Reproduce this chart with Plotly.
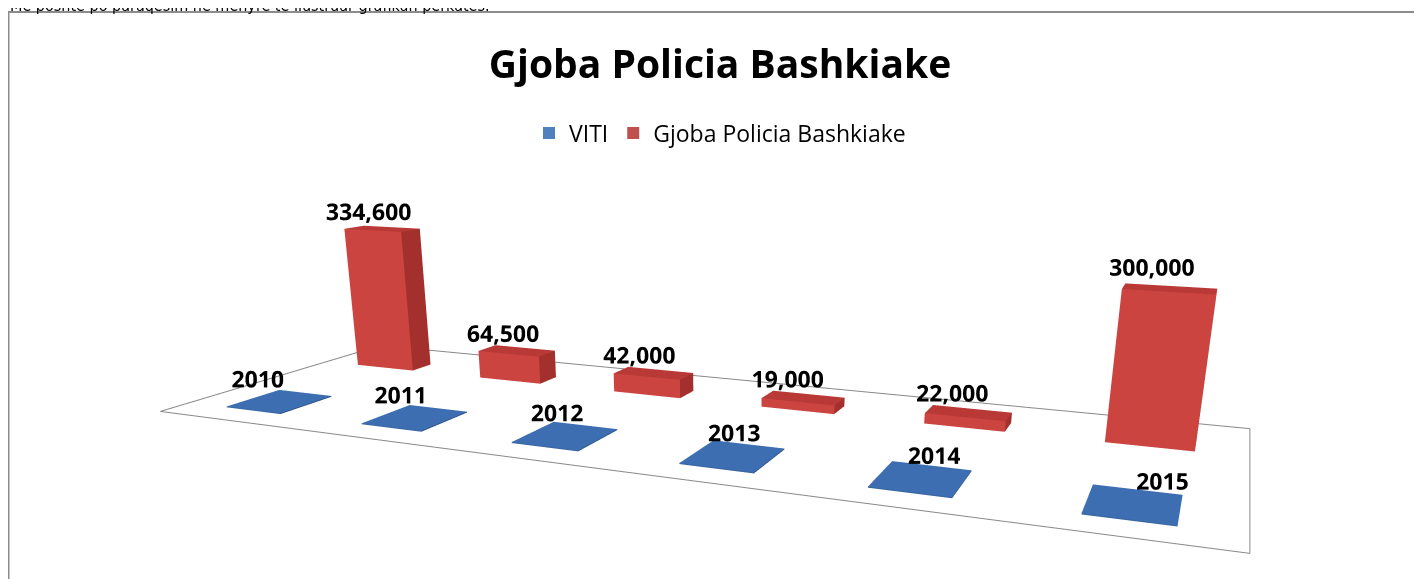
import plotly.graph_objects as go

# ---- data ----
years = ["2010", "2011", "2012", "2013", "2014", "2015"]
viti = [2010, 2011, 2012, 2013, 2014, 2015]
gjoba = [334600, 64500, 42000, 19000, 22000, 300000]
series_names = ["VITI", "Gjoba Policia Bashkiake"]
chart_title = "Gjoba Policia Bashkiake"
note_text = "Me poshte po paraqesim ne menyre te ilustruar grafikun perkatës."

# ---- layout constants ----
FW, FH = 1414, 1000          # figure (page has 8px body margin); taller than window for a narrow FOV
ZMIN, ZMAX = -4000, 400000
Z_SCALE = 0.5285 / 350000    # scene units per value unit
Z_ASPECT = Z_SCALE * (ZMAX - ZMIN)
FLOOR_Z = -Z_ASPECT / 2 + Z_SCALE * (0 - ZMIN)
FLOOR_X = [-0.5, 5.5]
FLOOR_Y = [-0.40, 1.44]
PX, PY = 0.03, 0.02
X_RANGE = [FLOOR_X[0] - PX, FLOOR_X[1] + PX]
Y_RANGE = [FLOOR_Y[0] - PY, FLOOR_Y[1] + PY]
X_ASPECT = 3.266 / (FLOOR_X[1] - FLOOR_X[0]) * (X_RANGE[1] - X_RANGE[0])
Y_ASPECT = 1.14 / (FLOOR_Y[1] - FLOOR_Y[0]) * (Y_RANGE[1] - Y_RANGE[0])

blue_faces = {"front": "#3A66A3", "right": "#2E5486", "top": "#3C6EB1", "other": "#3A66A3"}
red_faces = {"front": "#CB4440", "right": "#A3302D", "top": "#B83935", "other": "#CB4440"}


def boxes_mesh(values, depth_pos, bw, bd, faces, name):
    xs, ys, zs, I, J, K, fc = [], [], [], [], [], [], []
    for ci, v in enumerate(values):
        x0, x1 = ci - bw / 2, ci + bw / 2
        y0, y1 = depth_pos - bd / 2, depth_pos + bd / 2
        z0, z1 = 0, v
        b = len(xs)
        for (x, y, z) in [(x0, y0, z0), (x1, y0, z0), (x1, y1, z0), (x0, y1, z0),
                          (x0, y0, z1), (x1, y0, z1), (x1, y1, z1), (x0, y1, z1)]:
            xs.append(x); ys.append(y); zs.append(z)
        tris = [
            ((0, 1, 5), "front"), ((0, 5, 4), "front"),
            ((1, 2, 6), "right"), ((1, 6, 5), "right"),
            ((4, 5, 6), "top"), ((4, 6, 7), "top"),
            ((3, 0, 4), "other"), ((3, 4, 7), "other"),
            ((2, 3, 7), "other"), ((2, 7, 6), "other"),
            ((0, 3, 2), "other"), ((0, 2, 1), "other"),
        ]
        for (a, c, d), f in tris:
            I.append(b + a); J.append(b + c); K.append(b + d); fc.append(faces[f])
    return go.Mesh3d(x=xs, y=ys, z=zs, i=I, j=J, k=K, facecolor=fc, flatshading=True,
                     lighting=dict(ambient=1, diffuse=0, specular=0, roughness=1, fresnel=0),
                     hoverinfo="skip", showlegend=False, name=name)


fig = go.Figure()
xs_idx = list(range(len(years)))
fig.add_trace(boxes_mesh(viti, 0.0, 0.41, 0.40, blue_faces, series_names[0]))
fig.add_trace(boxes_mesh(gjoba, 1.0, 0.46, 0.18, red_faces, series_names[1]))

# floor outline
fx0, fx1 = FLOOR_X
fy0, fy1 = FLOOR_Y
fig.add_trace(go.Scatter3d(x=[fx0, fx1, fx1, fx0, fx0], y=[fy0, fy0, fy1, fy1, fy0], z=[0, 0, 0, 0, 0],
                           mode="lines", line=dict(color="#8A8A8A", width=2), hoverinfo="skip",
                           showlegend=False))

# data labels
lab_font = dict(family="Open Sans", size=23, color="black", weight="bold")
fig.add_trace(go.Scatter3d(x=[i + 0.12 for i in xs_idx], y=[-0.25] * 6, z=[v + 76000 for v in viti],
                           mode="text", text=[str(v) for v in viti], textposition="middle center",
                           textfont=lab_font, hoverinfo="skip", showlegend=False))
fig.add_trace(go.Scatter3d(x=[i - 0.10 for i in xs_idx], y=[1.0] * 6, z=[v + 36000 for v in gjoba],
                           mode="text", text=[f"{v:,}" for v in gjoba], textposition="middle center",
                           textfont=lab_font, hoverinfo="skip", showlegend=False))

# legend entries
fig.add_trace(go.Scatter(x=[None], y=[None], mode="markers", name=series_names[0],
                         marker=dict(symbol="square", size=12, color="#4F81BD")))
fig.add_trace(go.Scatter(x=[None], y=[None], mode="markers", name=series_names[1],
                         marker=dict(symbol="square", size=12, color="#C0504D")))

noaxis = dict(visible=False, showgrid=False, zeroline=False, showticklabels=False, title="",
              showbackground=False, showspikes=False)
eye = dict(x=1.498, y=-3.385, z=1 + FLOOR_Z)
look = dict(x=eye["x"] - 1.0926, y=eye["y"] + 2.6121, z=eye["z"] - 0.9915)
fig.update_layout(
    width=FW, height=FH,
    margin=dict(l=0, r=0, t=0, b=0),
    paper_bgcolor="white", plot_bgcolor="white",
    xaxis=dict(visible=False, domain=[0, 0.01]), yaxis=dict(visible=False, domain=[0, 0.01]),
    title=dict(text=f"<b>{chart_title}</b>", x=712 / FW, xanchor="center", y=1 - 56 / FH, yanchor="middle",
               font=dict(family="Open Sans", size=39, color="black")),
    legend=dict(orientation="h", x=712 / FW, xanchor="center", y=1 - 125 / FH, yanchor="middle",
                font=dict(family="Open Sans", size=23, color="black"), bgcolor="rgba(0,0,0,0)"),
    scene=dict(
        domain=dict(x=[0, 1], y=[0, 1]),
        xaxis=dict(noaxis, range=X_RANGE),
        yaxis=dict(noaxis, range=Y_RANGE),
        zaxis=dict(noaxis, range=[ZMIN, ZMAX]),
        aspectmode="manual", aspectratio=dict(x=X_ASPECT, y=Y_ASPECT, z=Z_ASPECT),
        bgcolor="rgba(0,0,0,0)",
        camera=dict(eye=eye, center=look, up=dict(x=0, y=0, z=1), projection=dict(type="perspective")),
        dragmode=False,
    ),
    shapes=[dict(type="rect", xref="paper", yref="paper", x0=0.5 / FW, x1=1413 / FW, y0=-0.05, y1=1 - 4 / FH,
                 line=dict(color="#8C8C8C", width=2), fillcolor="rgba(0,0,0,0)", layer="above")],
    annotations=[dict(text=note_text, xref="paper", yref="paper", x=0, xanchor="left", y=1 + 3 / FH,
                      yanchor="middle", showarrow=False,
                      font=dict(family="DejaVu Sans Condensed, Roboto", size=16, color="black"))],
)

fig.write_html("out.html", post_script="document.body.style.overflow='hidden';")
